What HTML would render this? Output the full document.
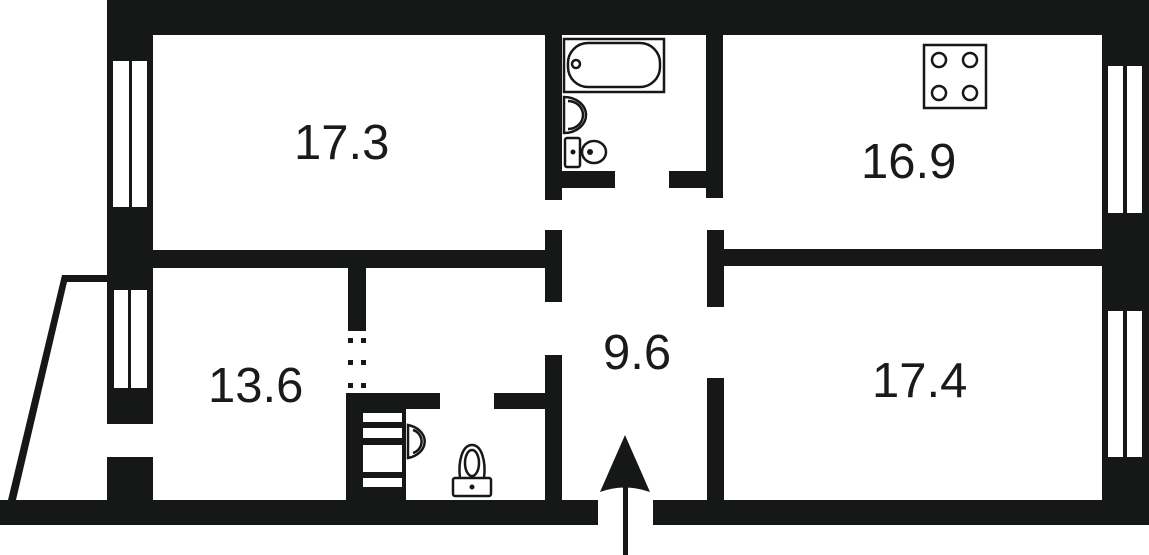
<!DOCTYPE html>
<html><head><meta charset="utf-8"><style>
html,body{margin:0;padding:0;background:#fff;width:1149px;height:555px;overflow:hidden}
text{font-family:"Liberation Sans",Arial,sans-serif;font-size:49px;fill:#1a1a1a}
</style></head><body>
<svg width="1149" height="555" viewBox="0 0 1149 555" xmlns="http://www.w3.org/2000/svg">
<g fill="#161818">
<rect x="107" y="0" width="1042" height="35"/>
<rect x="107" y="0" width="46" height="250"/>
<rect x="107" y="250" width="46" height="174"/>
<rect x="107" y="457" width="46" height="45"/>
<rect x="1102" y="0" width="47" height="525"/>
<rect x="0" y="500" width="598" height="25"/>
<rect x="653" y="500" width="496" height="25"/>
<rect x="153" y="250" width="409" height="18"/>
<rect x="545" y="35" width="17" height="165"/>
<rect x="545" y="230" width="17" height="72"/>
<rect x="545" y="355" width="17" height="145"/>
<rect x="545" y="171" width="70" height="17"/>
<rect x="669" y="171" width="54" height="17"/>
<rect x="706" y="35" width="17" height="163"/>
<rect x="707" y="230" width="17" height="77"/>
<rect x="707" y="378" width="17" height="122"/>
<rect x="724" y="249" width="378" height="17"/>
<rect x="348" y="268" width="18" height="63"/>
<rect x="348" y="338" width="5" height="5"/><rect x="361" y="338" width="5" height="5"/>
<rect x="348" y="360" width="5" height="5"/><rect x="361" y="360" width="5" height="5"/>
<rect x="348" y="383" width="5" height="5"/><rect x="361" y="383" width="5" height="5"/>
<rect x="346" y="393" width="94" height="16"/>
<rect x="494" y="393" width="51" height="16"/>
<rect x="346" y="393" width="17" height="107"/>
<rect x="363" y="409" width="43" height="91"/>
<polygon points="62,275 107,275 107,282 67,282 16,500 8,500"/>
</g>
<g fill="#fff">
<rect x="113" y="61" width="16" height="146"/><rect x="132" y="61" width="15" height="146"/>
<rect x="114" y="290" width="14" height="98"/><rect x="131" y="290" width="16" height="98"/>
<rect x="1108" y="66" width="15" height="147"/><rect x="1127" y="66" width="15" height="147"/>
<rect x="1108" y="311" width="15" height="146"/><rect x="1127" y="311" width="15" height="146"/>
<rect x="363" y="413" width="39" height="9"/><rect x="363" y="428" width="39" height="10"/>
<rect x="363" y="445" width="39" height="27"/><rect x="363" y="478" width="39" height="9"/>
</g>
<g fill="none" stroke="#161818" stroke-width="2.5">
<rect x="564" y="39" width="100" height="53"/>
<rect x="568" y="43" width="92" height="44" rx="20"/>
<circle cx="576" cy="64" r="4"/>
<path d="M564,97 A22,18 0 0 1 564,133 Z"/>
<path d="M568,101 A15,14 0 0 1 568,129"/>
<rect x="565" y="138" width="15" height="29" rx="2"/>
<ellipse cx="594" cy="152" rx="12" ry="11"/>
<rect x="924" y="45" width="62" height="63"/>
<circle cx="939" cy="60" r="7"/><circle cx="970" cy="60" r="7"/>
<circle cx="939" cy="93" r="7"/><circle cx="970" cy="93" r="7"/>
<path d="M408,425 A22,17 0 0 1 408,458 Z"/>
<path d="M413,430 A12,12 0 0 1 413,453"/>
<path d="M460,478 C458,462 462,445 472,445 C482,445 486,462 484,478"/>
<ellipse cx="472" cy="463" rx="7" ry="13"/>
<rect x="453" y="478" width="38" height="18" rx="2"/>
</g>
<g fill="#161818">
<circle cx="573" cy="152" r="2.5"/><circle cx="590" cy="152" r="3"/>
<circle cx="472" cy="487" r="2.5"/>
<path d="M625,435 L650,492 Q625,483 600,492 Z"/>
<rect x="623" y="485" width="5" height="70"/>
</g>
<text x="294" y="159">17.3</text>
<text x="861" y="178">16.9</text>
<text x="208" y="402">13.6</text>
<text x="603" y="369">9.6</text>
<text x="872" y="397">17.4</text>
</svg>
</body></html>
